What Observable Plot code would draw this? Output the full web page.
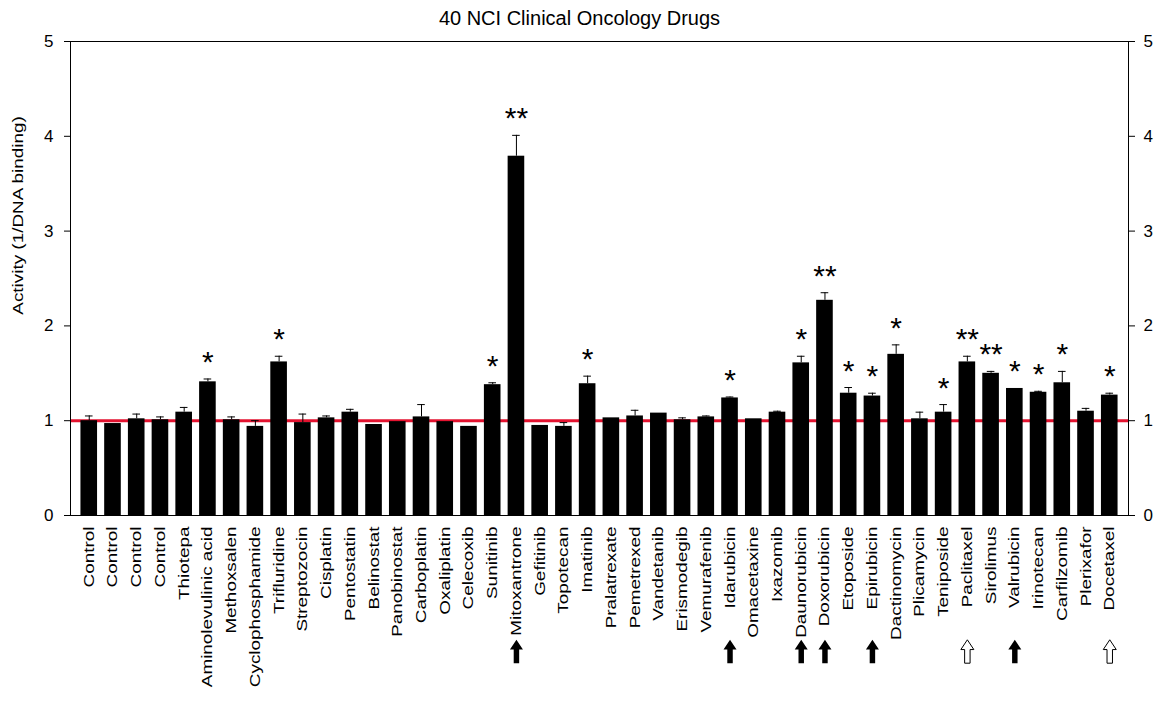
<!DOCTYPE html>
<html>
<head>
<meta charset="utf-8">
<script src="https://cdn.jsdelivr.net/npm/d3@7"></script>
<script src="https://cdn.jsdelivr.net/npm/@observablehq/plot@0.6"></script>
<style>
  html, body { margin: 0; padding: 0; background: #fff; }
  #title { width: 1159px; height: 30px; line-height: 36px; text-align: center;
           font-family: "Liberation Sans", Arial, sans-serif; font-size: 20px; color: #000; }
</style>
</head>
<body>
<div id="title">40 NCI Clinical Oncology Drugs</div>
<div id="chart"></div>
<script>
const names = ["Control","Control","Control","Control","Thiotepa","Aminolevulinic acid","Methoxsalen","Cyclophosphamide","Trifluridine","Streptozocin","Cisplatin","Pentostatin","Belinostat","Panobinostat","Carboplatin","Oxaliplatin","Celecoxib","Sunitinib","Mitoxantrone","Gefitinib","Topotecan","Imatinib","Pralatrexate","Pemetrexed","Vandetanib","Erismodegib","Vemurafenib","Idarubicin","Omacetaxine","Ixazomib","Daunorubicin","Doxorubicin","Etoposide","Epirubicin","Dactinomycin","Plicamycin","Teniposide","Paclitaxel","Sirolimus","Valrubicin","Irinotecan","Carfilzomib","Plerixafor","Docetaxel"];
const values = [1.00,0.97,1.02,1.01,1.09,1.41,1.01,0.94,1.62,0.98,1.03,1.09,0.96,0.99,1.04,0.99,0.94,1.38,3.79,0.95,0.94,1.39,1.03,1.05,1.08,1.01,1.04,1.24,1.02,1.09,1.61,2.27,1.29,1.26,1.70,1.02,1.09,1.62,1.50,1.34,1.30,1.40,1.10,1.27];
const errTops = [1.05,0.97,1.07,1.04,1.14,1.44,1.04,1.00,1.68,1.07,1.05,1.12,0.96,0.99,1.17,0.99,0.94,1.40,4.01,0.95,0.98,1.47,1.03,1.11,1.08,1.03,1.05,1.25,1.02,1.10,1.68,2.35,1.35,1.29,1.80,1.09,1.17,1.68,1.52,1.34,1.31,1.52,1.13,1.29];
const stars = ["","","","","","*","","","*","","","","","","","","","*","**","","","*","","","","","","*","","","*","**","*","*","*","","*","**","**","*","*","*","","*"];
const arrows = ["","","","","","","","","","","","","","","","","","","filled","","","","","","","","","filled","","","filled","filled","","filled","","","","open","","filled","","","","open"];
const yTicks = [0,1,2,3,4,5];
const referenceLevel = 1;
const yLabel = "Activity (1/DNA binding)";

const data = names.map((name, i) => ({i, name, value: values[i], err: errTops[i], star: stars[i], arrow: arrows[i]}));

const arrowSymbol = {
  draw(context, size) {
    const r = Math.sqrt(size / Math.PI);
    const hw = r, sw = r * 0.42, top = -r * 1.8, neck = -r * 0.3, bottom = r * 1.8;
    context.moveTo(0, top);
    context.lineTo(hw, neck);
    context.lineTo(sw, neck);
    context.lineTo(sw, bottom);
    context.lineTo(-sw, bottom);
    context.lineTo(-sw, neck);
    context.lineTo(-hw, neck);
    context.closePath();
  }
};

const font = "Liberation Sans, Arial, sans-serif";

const chart = Plot.plot({
  width: 1159,
  height: 672,
  marginTop: 11,
  marginBottom: 187,
  marginLeft: 70,
  marginRight: 31,
  style: {fontFamily: font, background: "#fff", color: "#000"},
  x: {type: "band", domain: d3.range(names.length), paddingInner: 0.3, paddingOuter: 0.44},
  y: {domain: [0, 5]},
  marks: [
    Plot.ruleY([referenceLevel], {stroke: "#e3122f", strokeWidth: 3}),
    Plot.barY(data, {x: "i", y: "value", fill: "#000"}),
    Plot.ruleX(data, {x: "i", y1: "value", y2: "err", stroke: "#000", strokeWidth: 1}),
    Plot.tickY(data.filter(d => d.err > d.value), {x: "i", y: "err", stroke: "#000", strokeWidth: 1, insetLeft: 4.5, insetRight: 4.5}),
    Plot.text(data.filter(d => d.star), {x: "i", y: "err", text: "star", fontSize: 30, lineAnchor: "bottom", dy: -7, fill: "#000"}),
    Plot.frame({stroke: "#000", strokeWidth: 1}),
    Plot.axisY(yTicks, {anchor: "left", tickSize: 6, tickPadding: 11, fontSize: 17, tickFormat: d3.format("d"), label: null}),
    Plot.axisY(yTicks, {anchor: "right", tickSize: 6, tickPadding: 9, fontSize: 17, tickFormat: d3.format("d"), label: null}),
    Plot.axisX({anchor: "bottom", tickSize: 0, tickPadding: 11, tickRotate: -90, fontSize: 14, tickFormat: i => names[i], label: null}),
    Plot.text([yLabel], {frameAnchor: "left", rotate: -90, textAnchor: "middle", dx: -52, dy: -63, fontSize: 14, text: d => d}),
    Plot.dot(data.filter(d => d.arrow === "filled"), {x: "i", frameAnchor: "bottom", dy: 136, r: 6.5, symbol: arrowSymbol, fill: "#000", stroke: "none"}),
    Plot.dot(data.filter(d => d.arrow === "open"), {x: "i", frameAnchor: "bottom", dy: 136, r: 6.5, symbol: arrowSymbol, fill: "#fff", stroke: "#000", strokeWidth: 1})
  ]
});

document.getElementById("chart").appendChild(chart);

// stretch the rotated labels along their reading direction to match the reference's proportions
const stretch = function() {
  const t = this.getAttribute("transform") || "";
  this.setAttribute("transform", t + " scale(1.35,1)");
};
d3.select(chart).selectAll('g[aria-label="x-axis tick label"] text').each(stretch);
d3.select(chart).selectAll("text").filter(function() { return this.textContent === yLabel; }).each(stretch);
</script>
</body>
</html>
